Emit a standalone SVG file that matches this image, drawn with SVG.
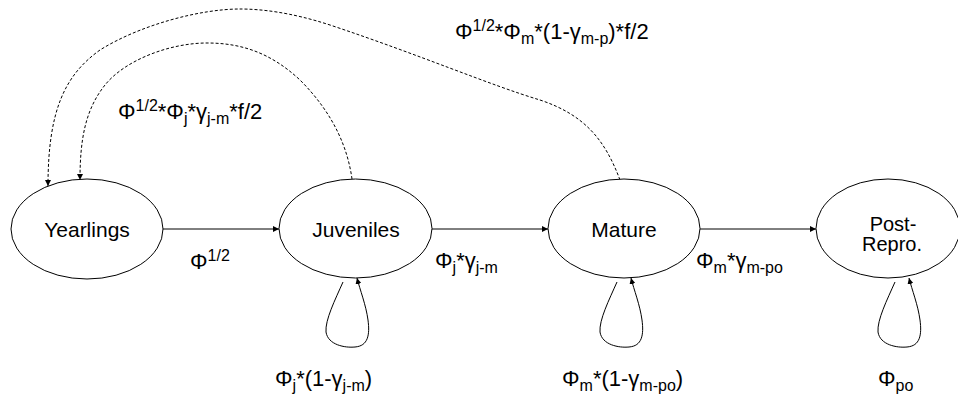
<svg xmlns="http://www.w3.org/2000/svg" width="958" height="397" viewBox="0 0 958 397">
<style>
.node{fill:#fff;stroke:#000;stroke-width:1}
.nt{font-family:"Liberation Sans",Arial,sans-serif;font-size:21px;fill:#000;text-anchor:middle}
.lb{font-family:"Liberation Sans",Arial,sans-serif;font-size:22px;fill:#000}
.s{font-size:16px}
.e{fill:none;stroke:#000;stroke-width:1}
.d{fill:none;stroke:#000;stroke-width:1;stroke-dasharray:3,2}
</style>
<defs>
<marker id="ah" viewBox="0 0 10 10" refX="10" refY="5" markerWidth="6" markerHeight="6" markerUnits="userSpaceOnUse" orient="auto">
<path d="M0,0 L10,5 L0,10 z" fill="#000"/>
</marker>
</defs>
<rect width="958" height="397" fill="#fff"/>
<g id="connectors">
<path class="e" d="M163,229 L279,229" marker-end="url(#ah)"/>
<path class="e" d="M432,229 L548,229" marker-end="url(#ah)"/>
<path class="e" d="M700,229 L816,229" marker-end="url(#ah)"/>
<path class="e" d="M343,282 C335,300 325,320 326,332 C328,345 345,348 355,347 C368,346 370,335 368,320 C366,305 360,290 357,278" marker-end="url(#ah)"/>
<path class="e" d="M617,282 C609,300 599,320 600,332 C602,345 619,348 629,347 C642,346 644,335 642,320 C640,305 634,290 631,278" marker-end="url(#ah)"/>
<path class="e" d="M895,282 C887,300 877,320 878,332 C880,345 897,348 907,347 C920,346 922,335 920,320 C918,305 912,290 909,278" marker-end="url(#ah)"/>
<path class="d" d="M352,179 C348,150 335,115 300,80 C270,52 240,43 207,43 C170,43 125,60 105,85 C85,110 80,140 80,180" marker-end="url(#ah)"/>
<path class="d" d="M620,180 C605,140 585,115 540,100 C490,85 420,55 330,25 C290,12 260,9 240,9 C200,9 140,25 100,50 C65,75 48,110 48,186" marker-end="url(#ah)"/>
</g>
<g id="yearlings">
<ellipse class="node" cx="87" cy="229" rx="76" ry="50"/>
<text class="nt" x="87" y="237">Yearlings</text>
</g>
<g id="juveniles">
<ellipse class="node" cx="355.5" cy="228.5" rx="76.5" ry="49.5"/>
<text class="nt" x="356" y="237">Juveniles</text>
</g>
<g id="mature">
<ellipse class="node" cx="624" cy="228.5" rx="76" ry="49.5"/>
<text class="nt" x="624" y="237">Mature</text>
</g>
<g id="postrepro">
<ellipse class="node" cx="888" cy="228.5" rx="72" ry="49.5"/>
<text class="nt" x="893" y="231" style="font-size:20px">Post-<tspan x="892" dy="20">Repro.</tspan></text>
</g>
<g id="labels">
<text class="lb" x="190" y="269">Φ<tspan class="s" dy="-8">1/2</tspan></text>
<text class="lb" x="435" y="268">Φ<tspan class="s" dy="5">j</tspan><tspan dy="-5">*</tspan>γ<tspan class="s" dy="5">j-m</tspan></text>
<text class="lb" x="696" y="268">Φ<tspan class="s" dy="5">m</tspan><tspan dy="-5">*</tspan>γ<tspan class="s" dy="5">m-po</tspan></text>
<text class="lb" x="275" y="386">Φ<tspan class="s" dy="5">j</tspan><tspan dy="-5">*(1-</tspan>γ<tspan class="s" dy="5">j-m</tspan><tspan dy="-5">)</tspan></text>
<text class="lb" x="562" y="386">Φ<tspan class="s" dy="5">m</tspan><tspan dy="-5">*(1-</tspan>γ<tspan class="s" dy="5">m-po</tspan><tspan dy="-5">)</tspan></text>
<text class="lb" x="878" y="386">Φ<tspan class="s" dy="5">po</tspan></text>
<text class="lb" x="118" y="119">Φ<tspan class="s" dy="-8">1/2</tspan><tspan dy="8">*Φ</tspan><tspan class="s" dy="5">j</tspan><tspan dy="-5">*</tspan>γ<tspan class="s" dy="5">j-m</tspan><tspan dy="-5">*f/2</tspan></text>
<text class="lb" x="455" y="39">Φ<tspan class="s" dy="-8">1/2</tspan><tspan dy="8">*Φ</tspan><tspan class="s" dy="5">m</tspan><tspan dy="-5">*(1-</tspan>γ<tspan class="s" dy="5">m-p</tspan><tspan dy="-5">)*f/2</tspan></text>
</g>
</svg>
